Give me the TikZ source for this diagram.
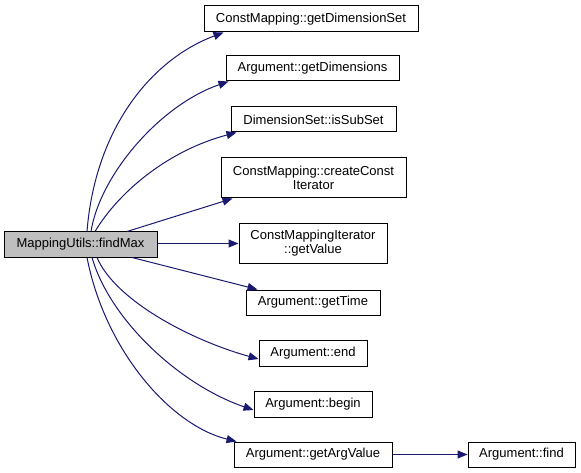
\documentclass[tikz,border=0pt]{standalone}
\usepackage{fontspec}
\setmainfont{Liberation Sans}
\usetikzlibrary{arrows.meta}
\definecolor{edgeblue}{RGB}{25,25,112}
\definecolor{boxgray}{RGB}{191,191,191}
\begin{document}
\begin{tikzpicture}[x=1pt,y=-1pt,
  fn/.style={draw=black,line width=1pt,fill=white,inner sep=0pt,align=center,
    font=\fontsize{13}{14}\selectfont},
  edge/.style={draw=edgeblue,line width=1pt,-{Triangle[length=10pt,width=8pt,fill=edgeblue]}}]
\useasboundingbox (0,0) rectangle (581,473);
\node[fn,fill=boxgray,minimum width=153pt,minimum height=25pt] (fm) at (80.5,244.5) {MappingUtils::findMax};
\node[fn,minimum width=214pt,minimum height=26pt] (gds) at (311,19) {ConstMapping::getDimensionSet};
\node[fn,minimum width=173pt,minimum height=25pt] (gd) at (312.5,68.5) {Argument::getDimensions};
\node[fn,minimum width=165pt,minimum height=25pt] (iss) at (313.5,119.5) {DimensionSet::isSubSet};
\node[fn,minimum width=185pt,minimum height=40pt] (cci) at (313.5,178) {ConstMapping::createConst\\Iterator};
\node[fn,minimum width=148pt,minimum height=40pt] (gv) at (313,243.5) {ConstMappingIterator\\::getValue};
\node[fn,minimum width=134pt,minimum height=25pt] (gt) at (313,302.5) {Argument::getTime};
\node[fn,minimum width=108pt,minimum height=26pt] (en) at (313,353) {Argument::end};
\node[fn,minimum width=118pt,minimum height=26pt] (bg) at (313,404) {Argument::begin};
\node[fn,minimum width=158pt,minimum height=25pt] (gav) at (313,454.5) {Argument::getArgValue};
\node[fn,minimum width=107pt,minimum height=25pt] (fd) at (521.5,454.5) {Argument::find};

\draw[edge] ([xshift=6.5pt]fm.north) .. controls (95,130) and (150,60) .. ([xshift=20pt]gds.south west);
\draw[edge] ([xshift=10.5pt]fm.north) .. controls (100,175) and (160,105) .. ([xshift=3pt]gd.south west);
\draw[edge] ([xshift=14.5pt]fm.north) .. controls (120,190) and (170,150) .. ([xshift=6pt]iss.south west);
\draw[edge] ([xshift=46.5pt]fm.north) -- ([xshift=12pt]cci.south west);
\draw[edge] (fm.east |- gv.west) -- (gv.west);
\draw[edge] ([xshift=51.5pt]fm.south) -- ([xshift=12pt]gt.north west);
\draw[edge] ([xshift=16.5pt]fm.south) .. controls (115,300) and (190,340) .. ([yshift=-6pt]en.west);
\draw[edge] ([xshift=11.5pt]fm.south) .. controls (110,320) and (180,385) .. ([yshift=-6pt]bg.west);
\draw[edge] ([xshift=6.5pt]fm.south) .. controls (105,350) and (170,425) .. ([xshift=3pt]gav.north west);
\draw[edge] (gav.east) -- (fd.west);
\end{tikzpicture}
\end{document}
